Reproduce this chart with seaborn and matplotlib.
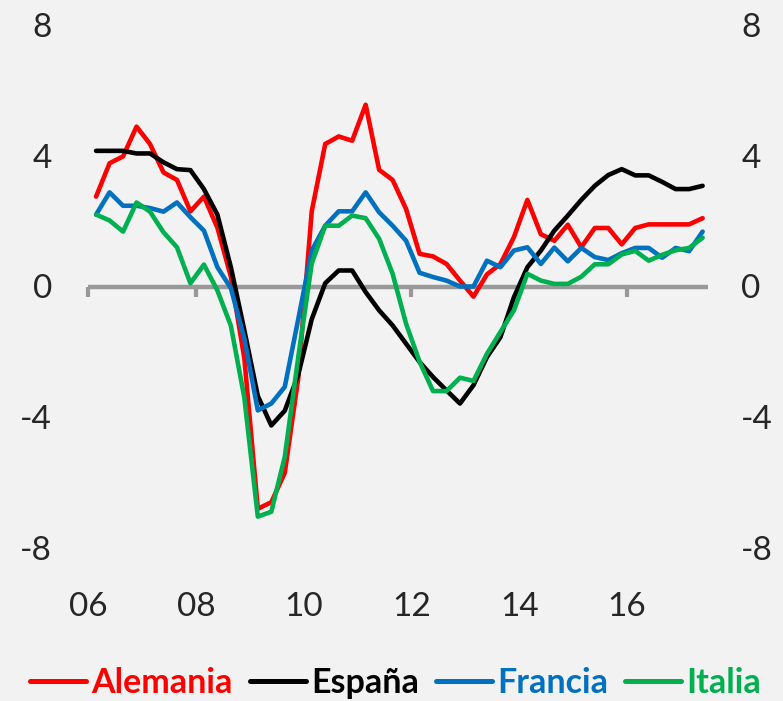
import numpy as np
import pandas as pd
import matplotlib
matplotlib.use("Agg")
import matplotlib.pyplot as plt
import seaborn as sns

# Quarterly data 2006Q1 .. 2017Q2
quarters = [f"{y}Q{q}" for y in range(2006, 2018) for q in range(1, 5)][:46]

alemania = [2.75, 3.77, 3.98, 4.89, 4.36, 3.49, 3.26, 2.30, 2.75, 1.80,
            0.30, -2.20, -6.80, -6.60, -5.70, -2.80, 2.30, 4.36, 4.59, 4.46,
            5.56, 3.57, 3.26, 2.37, 1.00, 0.92, 0.69, 0.18, -0.31, 0.37,
            0.69, 1.51, 2.65, 1.60, 1.40, 1.89, 1.20, 1.79, 1.79, 1.29,
            1.79, 1.90, 1.90, 1.90, 1.90, 2.09]
espana = [4.15, 4.15, 4.15, 4.07, 4.07, 3.80, 3.59, 3.56, 2.98, 2.20,
          0.59, -1.34, -3.35, -4.25, -3.80, -2.70, -1.00, 0.10, 0.49, 0.49,
          -0.17, -0.73, -1.19, -1.75, -2.31, -2.77, -3.18, -3.58, -3.02, -2.16,
          -1.55, -0.33, 0.59, 1.10, 1.71, 2.17, 2.65, 3.08, 3.41, 3.59,
          3.40, 3.40, 3.20, 2.98, 2.98, 3.08]
francia = [2.20, 2.88, 2.47, 2.47, 2.40, 2.29, 2.57, 2.12, 1.71, 0.59,
           -0.05, -1.60, -3.79, -3.58, -3.07, -1.00, 1.10, 1.86, 2.30, 2.30,
           2.88, 2.27, 1.86, 1.40, 0.42, 0.29, 0.18, 0.00, 0.00, 0.79,
           0.59, 1.10, 1.20, 0.69, 1.19, 0.77, 1.18, 0.90, 0.81, 1.02,
           1.18, 1.18, 0.88, 1.18, 1.08, 1.68]
italia = [2.20, 2.02, 1.68, 2.57, 2.29, 1.66, 1.20, 0.10, 0.67, -0.12,
          -1.20, -3.40, -7.04, -6.89, -5.21, -2.16, 0.70, 1.86, 1.86, 2.17,
          2.09, 1.46, 0.39, -1.14, -2.30, -3.20, -3.20, -2.79, -2.89, -2.06,
          -1.39, -0.73, 0.39, 0.18, 0.08, 0.08, 0.30, 0.68, 0.68, 0.98,
          1.09, 0.79, 0.97, 1.11, 1.18, 1.49]

series_names = ["Alemania", "España", "Francia", "Italia"]
colors = ["#FF0000", "#000000", "#0070C0", "#00B050"]
year_ticks = ["06", "08", "10", "12", "14", "16"]
y_ticks = [-8, -4, 0, 4, 8]

# ---- build long-form table ----
n = len(quarters)
xpos = np.arange(n) + 0.6
frames = []
for name, vals in zip(series_names, [alemania, espana, francia, italia]):
    frames.append(pd.DataFrame({"x": xpos, "valor": vals, "pais": name}))
df = pd.concat(frames, ignore_index=True)

sns.set_style("white")
plt.rcParams["font.family"] = ["Lato", "DejaVu Sans"]

bg = "#F2F2F2"
grey = "#999999"
fig = plt.figure(figsize=(7.83, 7.01), dpi=100, facecolor=bg)
ax = fig.add_axes([88 / 783, 1 - 548 / 701, 620 / 783, (548 - 25) / 701])
ax.set_facecolor(bg)

palette = dict(zip(series_names, colors))
sns.lineplot(data=df, x="x", y="valor", hue="pais", palette=palette,
             hue_order=series_names, linewidth=3.3, ax=ax, zorder=3)

ax.set_xlim(0, n)
ax.set_ylim(-8, 8)
ax.set_xlabel("")
ax.set_ylabel("")

for s in ["top", "right", "left"]:
    ax.spines[s].set_visible(False)
ax.spines["bottom"].set_position(("data", 0))
ax.spines["bottom"].set_color(grey)
ax.spines["bottom"].set_linewidth(3.2)
ax.spines["bottom"].set_zorder(2)
ax.spines["bottom"].set_capstyle("butt")

tick_pos = np.arange(len(year_ticks)) * 8
ax.set_xticks(tick_pos)
ax.tick_params(axis="x", bottom=True, direction="out", length=7, width=3.0,
               color=grey, labelbottom=False)

sec = ax.secondary_xaxis("bottom")
sec.set_xticks(tick_pos, labels=year_ticks)
sec.tick_params(bottom=False, length=0, pad=32, labelsize=24)
for s in sec.spines.values():
    s.set_visible(False)

ax.set_yticks(y_ticks)
ax.set_yticklabels([str(v) for v in y_ticks])
ax.tick_params(axis="y", left=False, length=0, pad=26, labelsize=24)

axr = ax.twinx()
axr.set_ylim(ax.get_ylim())
axr.set_yticks(y_ticks)
axr.set_yticklabels([str(v) for v in y_ticks])
axr.tick_params(axis="y", right=False, length=0, pad=24, labelsize=24)
for s in axr.spines.values():
    s.set_visible(False)

handles, labels = ax.get_legend_handles_labels()
if ax.get_legend() is not None:
    ax.get_legend().remove()
leg = fig.legend(handles, labels, loc="center", bbox_to_anchor=(0.505, 0.026),
                 ncol=4, frameon=False, handlelength=1.65, handletextpad=0.15,
                 columnspacing=0.5, borderaxespad=0,
                 prop={"family": ["Lato", "DejaVu Sans"], "weight": "bold", "size": 24.5})
for txt, ln in zip(leg.get_texts(), leg.get_lines()):
    ln.set_linewidth(3.6)
    txt.set_color(ln.get_color())

fig.savefig("out.png", dpi=100, facecolor=bg)
